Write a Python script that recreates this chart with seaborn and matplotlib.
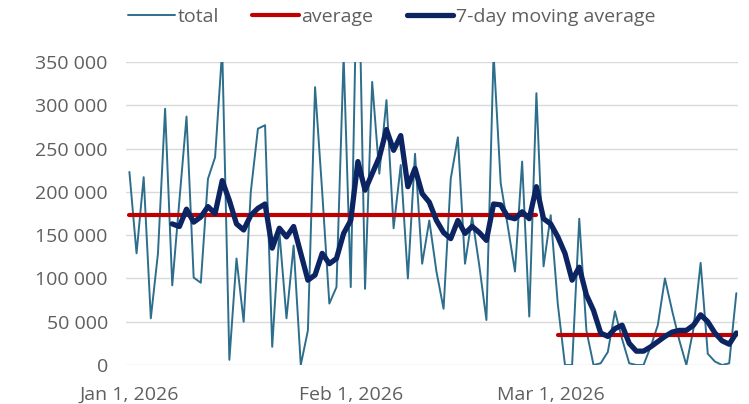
import numpy as np
import pandas as pd
import matplotlib
matplotlib.use("Agg")
import matplotlib.pyplot as plt
import matplotlib.dates as mdates
from matplotlib.lines import Line2D
from matplotlib.ticker import FuncFormatter
import seaborn as sns

# daily totals, in thousands, starting Jan 1, 2026
start_date = "2026-01-01"
total = [223, 129, 217, 54, 129, 296, 92, 190, 287, 101,
         95, 215, 240, 365, 6, 123, 50, 200, 273, 277,
         21, 154, 54, 138, 0, 40, 321, 200, 71, 90,
         357, 90, 516, 88, 327, 221, 306, 158, 231, 100,
         244, 117, 167, 108, 65, 215, 263, 117, 171, 115,
         52, 360, 210, 160, 108, 235, 56, 314, 114, 173,
         70, 0, 0, 169, 40, 0, 2, 15, 62, 30,
         2, 0, 0, 21, 46, 100, 63, 29, 0, 42,
         118, 13, 4, 0, 2, 83]

# 7-day moving average, in thousands, first value on day 7 (Jan 7)
moving_avg = [163, 160, 180, 165, 171, 183, 175, 213, 190, 163,
              156, 173, 181, 186, 135, 158, 148, 160, 129, 98,
              104, 129, 117, 123, 152, 167, 235, 202, 221, 240,
              272, 248, 265, 206, 227, 198, 188, 167, 153, 146,
              167, 152, 160, 153, 144, 186, 185, 171, 169, 177,
              169, 206, 169, 163, 148, 129, 98, 113, 81, 63,
              37, 33, 42, 46, 25, 16, 16, 21, 27, 33,
              38, 40, 40, 46, 58, 50, 37, 28, 24, 37]

# period averages, in thousands
avg_jan_feb = 173.5
avg_mar = 34.6
jan_feb_days = 58   # points 0..57
mar_first_day = 60

dates = pd.date_range(start_date, periods=len(total), freq="D")
df = pd.DataFrame({"date": dates, "total": np.array(total) * 1000})
ma_df = pd.DataFrame({"date": dates[6:], "ma": np.array(moving_avg) * 1000})
avg1 = pd.DataFrame({"date": dates[:jan_feb_days], "avg": avg_jan_feb * 1000})
avg2 = pd.DataFrame({"date": dates[mar_first_day:], "avg": avg_mar * 1000})

c_total = "#2D6E8C"
c_avg = "#C00000"
c_ma = "#0C2462"
grey = "#5F5F5F"

sns.set_style("white")
plt.rcParams["font.family"] = ["Open Sans", "DejaVu Sans"]

fig = plt.figure(figsize=(7.49, 4.04), dpi=100)
ax = fig.add_axes([0.168, 0.0965, 0.817, 0.750])

sns.lineplot(data=df, x="date", y="total", color=c_total, linewidth=1.4, ax=ax)
sns.lineplot(data=avg1, x="date", y="avg", color=c_avg, linewidth=3.0, ax=ax)
sns.lineplot(data=avg2, x="date", y="avg", color=c_avg, linewidth=3.0, ax=ax)
sns.lineplot(data=ma_df, x="date", y="ma", color=c_ma, linewidth=3.8, ax=ax,
             solid_joinstyle="round", solid_capstyle="round")

ax.set_ylim(0, 350000)
ax.set_yticks(np.arange(0, 350001, 50000))
ax.yaxis.set_major_formatter(FuncFormatter(lambda v, p: f"{int(v):,}".replace(",", " ")))
ax.grid(axis="y", color="#D9D9D9", linewidth=1.0)
ax.set_axisbelow(True)

x0 = mdates.date2num(dates[0])
ax.set_xlim(x0 - 0.5, x0 + 85.2)
ticks = pd.to_datetime(["2026-01-01", "2026-02-01", "2026-03-01"])
ax.set_xticks(ticks)
ax.set_xticklabels([f"{t.strftime('%b')} {t.day}, {t.year}" for t in ticks])

for s in ax.spines.values():
    s.set_visible(False)
ax.tick_params(axis="both", length=0, labelsize=14, colors=grey)
ax.tick_params(axis="y", pad=13)
ax.tick_params(axis="x", pad=15)
ax.set_xlabel("")
ax.set_ylabel("")

handles = [Line2D([], [], color=c_total, linewidth=1.4),
           Line2D([], [], color=c_avg, linewidth=3.0),
           Line2D([], [], color=c_ma, linewidth=3.8, solid_capstyle="round")]
fig.legend(handles, ["total", "average", "7-day moving average"],
           loc="center", bbox_to_anchor=(0.523, 0.958), ncol=3, frameon=False,
           fontsize=14, handlelength=2.4, handletextpad=0.15, columnspacing=1.7,
           labelcolor=grey)

fig.savefig("out.png", dpi=100)
